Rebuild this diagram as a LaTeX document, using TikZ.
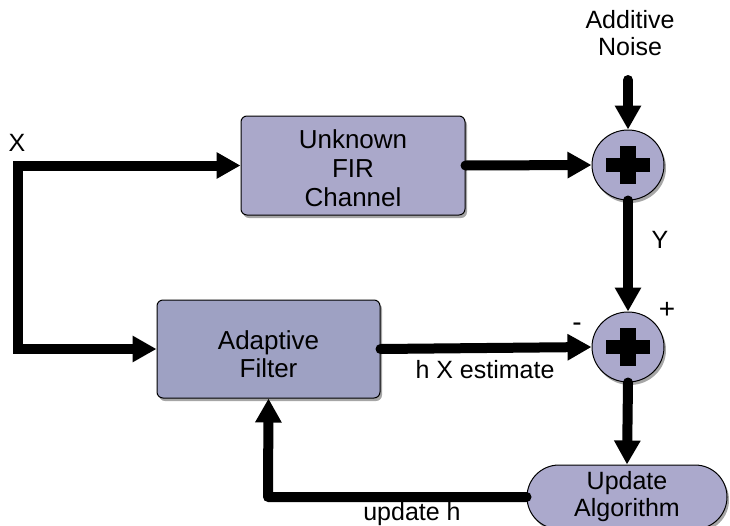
\documentclass[tikz,border=0pt]{standalone}
\usepackage{fontspec}
\setmainfont{Liberation Sans}
\usetikzlibrary{arrows.meta,shapes.geometric,shapes.misc,shadows}
\definecolor{blockfill}{HTML}{AAA8CA}
\definecolor{filterfill}{HTML}{9EA1C3}
\definecolor{sumfill}{HTML}{ABA9CC}
\begin{document}
\begin{tikzpicture}[x=1pt,y=-1pt,
  txt/.style={font=\fontsize{25}{27}\selectfont, align=center},
  shade/.style={drop shadow={shadow xshift=2pt,shadow yshift=-3pt,opacity=0.35,fill=black}},
  block/.style={txt, draw=black, line width=1pt, rounded corners=6pt, fill=blockfill, shade},
  summer/.style={ellipse, draw=black, line width=1pt, fill=sumfill, shade,
    minimum width=72pt, minimum height=70pt, inner sep=0pt,
    path picture={
      \fill[black] ([shift={(-22pt,-7pt)}]path picture bounding box.center) rectangle ([shift={(22pt,7pt)}]path picture bounding box.center);
      \fill[black] ([shift={(-8pt,-19pt)}]path picture bounding box.center) rectangle ([shift={(8pt,19pt)}]path picture bounding box.center);
    }},
  conn/.style={line width=10pt, line cap=round, -{Triangle[length=24pt,width=25pt]}},
]
\useasboundingbox (0,0) rectangle (730,525);

% blocks
\node[block, minimum width=224pt, minimum height=99pt] (fir) at (353,165.5) {};
\node[txt, font=\fontsize{26}{29}\selectfont] (firtext) at (353,168.5) {Unknown\\FIR\\Channel};
\node[block, fill=filterfill, minimum width=223pt, minimum height=98pt] (af) at (268.5,349) {};
\node[txt, font=\fontsize{26}{28}\selectfont] (aftext) at (268.5,354) {Adaptive\\Filter};
\node[summer] (s1) at (628,165) {};
\node[summer] (s2) at (628,347) {};
\node[txt, rounded rectangle, draw=black, line width=1pt, fill=sumfill, shade,
      minimum width=200pt, minimum height=64pt, inner sep=0pt] (upd) at (627,497) {Update\\Algorithm};

% labels
\node[txt] (xl) at (17,143) {X};
\node[txt] (noise) at (630,33) {Additive\\Noise};
\coordinate (n0) at (628,80);
\node[txt] (yl) at (660,240) {Y};
\node[txt, font=\fontsize{28}{30}\selectfont] (plus) at (667,310) {+};
\node[txt, font=\fontsize{28}{30}\selectfont] (minus) at (577,327) {-};
\node[txt] (hx) at (485,370) {h X estimate};
\node[txt] (uh) at (412,514) {update h};
\coordinate (corner) at (268,497);

% connectors
\draw[line width=10pt, line join=miter, {Triangle[length=24pt,width=25pt]}-{Triangle[length=24pt,width=25pt]}]
  (fir.west) -- (18,165.5) -- (18,349) -- (af.west);
\draw[conn] (fir.east) -- (s1.west);
\draw[conn] (n0) -- (s1.north);
\draw[conn] (s1.south) -- (s2.north);
\draw[conn] (af.east) -- (s2.west);
\draw[conn] (s2.south) -- (upd.north);
\draw[conn, line join=round] (upd.west) -- (corner) -- (af.south);
\end{tikzpicture}
\end{document}
